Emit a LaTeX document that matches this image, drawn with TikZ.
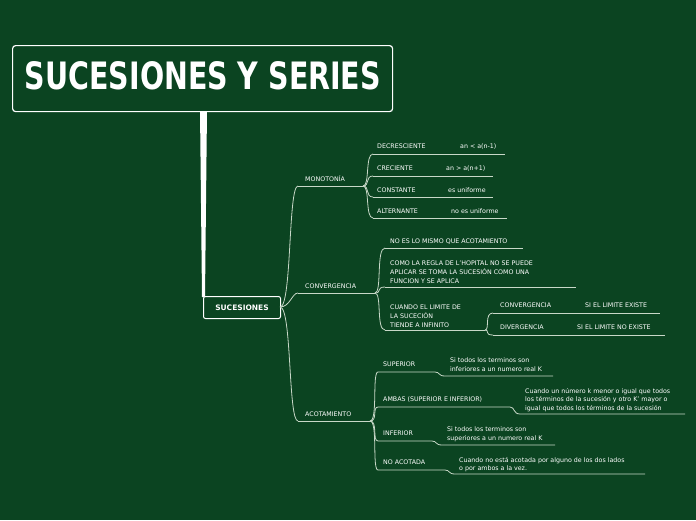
\documentclass[tikz,border=0pt]{standalone}
\usepackage{fontspec}
\setmainfont{DejaVu Sans}
\definecolor{bg}{HTML}{0B4421}
\definecolor{ln}{HTML}{C8D8C8}
\begin{document}
\begin{tikzpicture}[x=1pt,y=-1pt,
  lbl/.style={anchor=base west,inner sep=0pt,text=white,font=\fontsize{6.3}{8.6}\selectfont,align=left},
  mlbl/.style={lbl,anchor=north west,yshift=4pt},
  ul/.style={draw=ln,line width=0.8pt},
  br/.style={draw=ln,line width=0.8pt}]
\useasboundingbox[fill=bg] (0,0) rectangle (696,520);
% trunk
\fill[white] (200,110) -- (207,110) -- (205,297) -- (202,297) -- cycle;
\node[draw=white,line width=1.2pt,fill=bg,rounded corners=3pt,minimum width=380pt,minimum height=66pt,anchor=north west] (title) at (12,45) {};
\node[text=white,font=\bfseries] (tt) at (203,76) {\resizebox{356pt}{28pt}{SUCESIONES Y SERIES}};
\node[draw=white,line width=1pt,fill=bg,rounded corners=2pt,minimum width=77pt,minimum height=22pt,anchor=north west,text=white,font=\fontsize{7.5}{9}\selectfont\bfseries] (root) at (203,296) {SUCESIONES};
\coordinate (r) at (280,307);
\newcommand\lvl[4]{%
\coordinate (#1a) at (#2,#4); \coordinate (#1b) at (#3,#4); \draw[ul] (#1a)--(#1b);}
% level 1
\lvl{mo}{298}{363}{186}\node[lbl] (mot) at (305,181) {MONOTONÍA};
\lvl{co}{298}{375}{293}\node[lbl] (cot) at (305,288) {CONVERGENCIA};
\lvl{ac}{298}{370}{421}\node[lbl] (act) at (305,416) {ACOTAMIENTO};
\draw[br] (r) .. controls (292,307) and (288,186) .. (moa);
\draw[br] (r) .. controls (290,307) and (292,293) .. (coa);
\draw[br] (r) .. controls (292,307) and (288,421) .. (aca);
% monotonia
\lvl{d1}{373}{505}{154}\node[lbl] at (377,148) {DECRESCIENTE};\node[lbl] at (460,148) {an < a(n-1)};
\lvl{d2}{373}{493}{176}\node[lbl] at (377,170) {CRECIENTE};\node[lbl] at (446,170) {an > a(n+1)};
\lvl{d3}{373}{493}{197}\node[lbl] at (377,192) {CONSTANTE};\node[lbl] at (448,192) {es uniforme};
\lvl{d4}{373}{507}{218}\node[lbl] at (377,213) {ALTERNANTE};\node[lbl] at (451,213) {no es uniforme};
\foreach \n in {d1,d2,d3,d4}{\draw[br] (mob) .. controls (370,186) and (365,186|-\n a) .. (\n a);}
% convergencia
\lvl{c1}{385}{523}{248}\node[lbl] at (390,243) {NO ES LO MISMO QUE ACOTAMIENTO};
\lvl{c2}{385}{576}{287}\node[mlbl] at (390,265) {COMO LA REGLA DE L'HOPITAL NO SE PUEDE\\APLICAR SE TOMA LA SUCESIÓN COMO UNA\\FUNCION Y SE APLICA};
\lvl{c3}{385}{485}{330}\node[mlbl] at (390,309) {CUANDO EL LIMITE DE\\LA SUCECIÓN\\TIENDE A INFINITO};
\foreach \n in {c1,c2,c3}{\draw[br] (cob) .. controls (382,293) and (376,293|-\n a) .. (\n a);}
\lvl{e1}{493}{660}{313}\node[lbl] at (500,307) {CONVERGENCIA};\node[lbl] at (585,307) {SI EL LIMITE EXISTE};
\lvl{e2}{493}{665}{335}\node[lbl] at (500,329) {DIVERGENCIA};\node[lbl] at (577,329) {SI EL LIMITE NO EXISTE};
\foreach \n in {e1,e2}{\draw[br] (c3b) .. controls (490,330) and (484,330|-\n a) .. (\n a);}
% acotamiento
\newcommand\jog[6]{%
\coordinate (#1a) at (#2,#4); \coordinate (#1b) at (#6,#5);
\draw[ul] (#1a) -- (#3,#4) .. controls (#3+5,#4) and (#3+3,#5) .. (#3+10,#5) -- (#1b);}
\jog{a1}{378}{435}{372}{376}{553}\node[lbl] at (383,366) {SUPERIOR};\node[mlbl] at (450,362) {Si todos los terminos son\\inferiores a un numero real K};
\jog{a2}{378}{510}{407}{414}{685}\node[lbl] at (383,401) {AMBAS (SUPERIOR E INFERIOR)};\node[mlbl] at (525,392) {Cuando un número k menor o igual que todos\\los términos de la sucesión y otro K' mayor o\\igual que todos los términos de la sucesión};
\jog{a3}{378}{432}{441}{445}{555}\node[lbl] at (383,435) {INFERIOR};\node[mlbl] at (447,431) {Si todos los terminos son\\superiores a un numero real K};
\jog{a4}{378}{445}{470}{474}{645}\node[lbl] at (383,464) {NO ACOTADA};\node[mlbl] at (459,461) {Cuando no está acotada por alguno de los dos lados\\o por ambos a la vez.};
\foreach \n in {a1,a2,a3,a4}{\draw[br] (acb) .. controls (378,421) and (372,421|-\n a) .. (\n a);}
\end{tikzpicture}
\end{document}
